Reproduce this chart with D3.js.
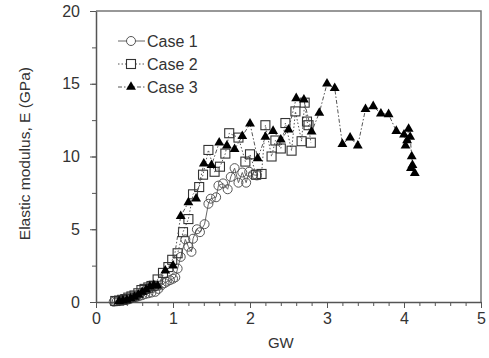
<!DOCTYPE html>
<html>
<head>
<meta charset="utf-8">
<script src="https://cdn.jsdelivr.net/npm/d3@7"></script>
<style>
  body { margin: 0; background: #fff; }
  text { font-family: "Liberation Sans", Arial, sans-serif; fill: #333; }
</style>
</head>
<body>
<div id="chart"></div>
<script>
// Case 1 (open circles, solid line)
const case1GW = [0.23, 0.27, 0.30, 0.33, 0.36, 0.40, 0.44, 0.48, 0.52, 0.56, 0.60, 0.64, 0.68, 0.72, 0.77, 0.81,
    0.85, 0.89, 0.92, 0.96, 1.00, 1.03, 1.06, 1.10, 1.16, 1.20, 1.24, 1.26, 1.31, 1.35, 1.41, 1.46, 1.49, 1.56,
    1.59, 1.65, 1.71, 1.75, 1.80, 1.85, 1.90, 1.95, 1.99, 2.04, 2.09];
const case1E = [0.02, 0.05, 0.08, 0.10, 0.12, 0.15, 0.20, 0.27, 0.33, 0.40, 0.47, 0.55, 0.60, 0.65, 0.70, 0.90,
    1.15, 1.30, 1.40, 1.50, 1.60, 1.70, 2.30, 3.10, 4.30, 3.80, 3.45, 4.35, 5.00, 4.80, 5.35, 6.75, 7.10, 7.20,
    8.00, 8.15, 7.75, 8.60, 9.20, 8.20, 8.90, 8.20, 8.95, 8.75, 8.70];

// Case 2 (open squares, dotted line)
const case2GW = [0.25, 0.30, 0.34, 0.38, 0.42, 0.46, 0.50, 0.55, 0.59, 0.63, 0.68, 0.72, 0.75, 0.80, 0.87, 0.94,
    0.99, 1.06, 1.13, 1.20, 1.26, 1.34, 1.39, 1.46, 1.54, 1.61, 1.68, 1.73, 1.85, 1.94, 2.00, 2.08, 2.15, 2.20,
    2.28, 2.33, 2.40, 2.46, 2.54, 2.59, 2.67, 2.71, 2.74, 2.76, 2.79];
const case2E = [0.07, 0.10, 0.15, 0.20, 0.30, 0.38, 0.45, 0.60, 0.82, 0.90, 1.00, 1.10, 1.12, 1.55, 2.00, 2.40,
    2.90, 3.35, 4.80, 5.70, 7.40, 7.90, 8.75, 10.45, 8.95, 9.30, 10.20, 11.60, 11.30, 9.65, 10.15, 8.75, 8.80, 12.15,
    10.00, 11.10, 10.55, 12.30, 10.40, 13.10, 11.05, 13.70, 12.40, 12.15, 10.95];

// Case 3 (filled triangles, dash-dot line)
const case3GW = [0.30, 0.35, 0.40, 0.45, 0.50, 0.55, 0.60, 0.65, 0.70, 0.75, 0.80, 0.90, 1.00, 1.10, 1.20, 1.30,
    1.40, 1.50, 1.60, 1.70, 1.80, 1.90, 2.00, 2.10, 2.20, 2.30, 2.40, 2.50, 2.60, 2.70, 2.80, 2.90, 3.00, 3.10,
    3.20, 3.30, 3.40, 3.50, 3.60, 3.70, 3.80, 3.90, 4.00, 4.02, 4.04, 4.06, 4.08, 4.10, 4.11, 4.09, 4.14];
const case3E = [0.05, 0.10, 0.15, 0.25, 0.35, 0.50, 0.70, 0.85, 1.05, 1.15, 1.10, 2.15, 2.50, 5.90, 6.85, 7.10,
    9.50, 9.40, 10.95, 10.75, 10.50, 11.40, 12.25, 9.87, 11.35, 11.75, 11.15, 11.85, 14.00, 13.90, 11.70, 13.00, 15.00, 14.70,
    10.85, 11.30, 10.75, 13.25, 13.45, 12.95, 12.90, 11.75, 11.50, 10.75, 11.10, 11.90, 11.35, 10.00, 9.40, 9.20, 8.85];

const seriesNames = ["Case 1", "Case 2", "Case 3"];
const xTicks = [0, 1, 2, 3, 4, 5];
const yTicks = [0, 5, 10, 15, 20];

const width = 489, height = 358;
const margin = {top: 11, right: 8, bottom: 56, left: 96};
const innerW = width - margin.left - margin.right;
const innerH = height - margin.top - margin.bottom;

const svg = d3.select("#chart").append("svg")
    .attr("width", width)
    .attr("height", height);

const g = svg.append("g")
    .attr("transform", `translate(${margin.left},${margin.top})`);

const x = d3.scaleLinear().domain([0, 5]).range([0, innerW]);
const y = d3.scaleLinear().domain([0, 20]).range([innerH, 0]);

// frame (top and right)
g.append("path")
    .attr("d", `M0,0H${innerW}V${innerH}`)
    .attr("fill", "none")
    .attr("stroke", "#777")
    .attr("stroke-width", 1.5);

// minor ticks
g.append("g")
    .attr("transform", `translate(0,${innerH})`)
    .call(d3.axisBottom(x).tickValues(d3.range(0, 5.01, 0.2)).tickSize(4).tickFormat(""))
    .call(a => a.select(".domain").remove())
    .call(a => a.selectAll("line").attr("stroke", "#555"));
g.append("g")
    .call(d3.axisLeft(y).tickValues(d3.range(0, 20.01, 2.5)).tickSize(4).tickFormat(""))
    .call(a => a.select(".domain").remove())
    .call(a => a.selectAll("line").attr("stroke", "#555"));

// major axes
const xAxis = g.append("g")
    .attr("transform", `translate(0,${innerH})`)
    .call(d3.axisBottom(x).tickValues(xTicks).tickFormat(d3.format("d"))
        .tickSize(6).tickSizeOuter(0).tickPadding(5));
const yAxis = g.append("g")
    .call(d3.axisLeft(y).tickValues(yTicks).tickFormat(d3.format("d"))
        .tickSize(6).tickSizeOuter(0).tickPadding(10));

[xAxis, yAxis].forEach(a => {
    a.select(".domain").attr("stroke", "#555").attr("stroke-width", 1.5);
    a.selectAll("line").attr("stroke", "#555");
    a.selectAll("text").attr("font-size", 16).attr("fill", "#333")
        .attr("font-family", "'Liberation Sans', Arial, sans-serif");
});

// axis titles
svg.append("text")
    .attr("x", margin.left + x(2.4))
    .attr("y", 348)
    .attr("text-anchor", "middle")
    .attr("font-size", 15)
    .text("GW");

svg.append("text")
    .attr("transform", `translate(30,${margin.top + y(10.2)}) rotate(-90)`)
    .attr("text-anchor", "middle")
    .attr("font-size", 15.5)
    .text("Elastic modulus, E (GPa)");

const series = [
    {gw: case1GW, e: case1E, dash: null, lineColor: "#666", marker: "circle"},
    {gw: case2GW, e: case2E, dash: "1.5,2", lineColor: "#555", marker: "square"},
    {gw: case3GW, e: case3E, dash: "4,2,1.5,2", lineColor: "#555", marker: "triangle"}
];

const line = d3.line().x(d => x(d[0])).y(d => y(d[1]));

function drawMarker(sel, type) {
    if (type === "circle") {
        sel.append("circle").attr("r", 4.5)
            .attr("fill", "none").attr("stroke", "#555").attr("stroke-width", 1);
    } else if (type === "square") {
        sel.append("rect").attr("x", -4.5).attr("y", -4.5).attr("width", 9).attr("height", 9)
            .attr("fill", "none").attr("stroke", "#333").attr("stroke-width", 1.1);
    } else {
        sel.append("path")
            .attr("d", d3.symbol().type(d3.symbolTriangle).size(42)())
            .attr("fill", "#000");
    }
}

series.forEach(s => {
    const pts = s.gw.map((v, i) => [v, s.e[i]]);
    g.append("path")
        .datum(pts)
        .attr("d", line)
        .attr("fill", "none")
        .attr("stroke", s.lineColor)
        .attr("stroke-width", 1)
        .attr("stroke-dasharray", s.dash);
    g.append("g").selectAll("g")
        .data(pts)
        .enter().append("g")
        .attr("transform", d => `translate(${x(d[0])},${y(d[1])})`)
        .each(function () { drawMarker(d3.select(this), s.marker); });
});

// legend
const legend = svg.append("g");
seriesNames.forEach((name, i) => {
    const ly = 41 + i * 23;
    const s = series[i];
    legend.append("line")
        .attr("x1", 118).attr("x2", 145).attr("y1", ly).attr("y2", ly)
        .attr("stroke", s.lineColor).attr("stroke-width", 1)
        .attr("stroke-dasharray", s.dash);
    const m = legend.append("g").attr("transform", `translate(131,${ly})`);
    drawMarker(m, s.marker);
    if (s.marker !== "triangle") m.select("*").attr("fill", "#fff");
    legend.append("text")
        .attr("x", 147).attr("y", ly)
        .attr("dy", "0.35em")
        .attr("font-size", 16)
        .text(name);
});
</script>
</body>
</html>
